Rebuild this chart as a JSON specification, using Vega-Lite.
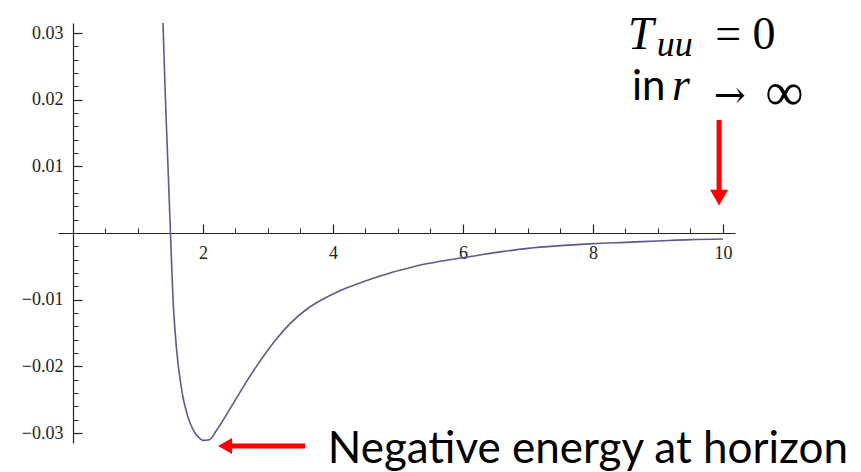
{
  "$schema": "https://vega.github.io/schema/vega-lite/v6.json",
  "width": 677,
  "height": 420,
  "autosize": {"type": "none"},
  "padding": {"left": 58, "top": 23, "right": 126, "bottom": 29},
  "background": "white",
  "config": {"view": {"stroke": null}},
  "datasets": {
    "curve": [
      {"r": 1.385, "T": 0.0315},
      {"r": 1.423, "T": 0.02},
      {"r": 1.462, "T": 0.01},
      {"r": 1.5, "T": 0.0},
      {"r": 1.538, "T": -0.0096},
      {"r": 1.569, "T": -0.0145},
      {"r": 1.615, "T": -0.0195},
      {"r": 1.662, "T": -0.0228},
      {"r": 1.692, "T": -0.0246},
      {"r": 1.738, "T": -0.0265},
      {"r": 1.769, "T": -0.0276},
      {"r": 1.815, "T": -0.0288},
      {"r": 1.877, "T": -0.03},
      {"r": 1.938, "T": -0.0307},
      {"r": 2.0, "T": -0.0311},
      {"r": 2.1, "T": -0.031},
      {"r": 2.21, "T": -0.0296},
      {"r": 2.365, "T": -0.0272},
      {"r": 2.52, "T": -0.0247},
      {"r": 2.67, "T": -0.0223},
      {"r": 2.83, "T": -0.0199},
      {"r": 2.98, "T": -0.0178},
      {"r": 3.13, "T": -0.0159},
      {"r": 3.34, "T": -0.0136},
      {"r": 3.6, "T": -0.0114},
      {"r": 3.85, "T": -0.0099},
      {"r": 4.1, "T": -0.0087},
      {"r": 4.36, "T": -0.0077},
      {"r": 4.62, "T": -0.0068},
      {"r": 4.88, "T": -0.006},
      {"r": 5.15, "T": -0.0053},
      {"r": 5.4, "T": -0.0047},
      {"r": 5.8, "T": -0.004},
      {"r": 6.2, "T": -0.0034},
      {"r": 6.6, "T": -0.0028},
      {"r": 7.0, "T": -0.0023},
      {"r": 7.5, "T": -0.0019},
      {"r": 8.0, "T": -0.0016},
      {"r": 8.5, "T": -0.0014},
      {"r": 9.0, "T": -0.0012},
      {"r": 9.5, "T": -0.001},
      {"r": 10.0, "T": -0.0009}
    ]
  },
  "encoding": {
    "x": {"field": "r", "type": "quantitative", "axis": null,
          "scale": {"domain": [-0.23, 10.185], "nice": false, "zero": false}},
    "y": {"field": "T", "type": "quantitative", "axis": null,
          "scale": {"domain": [-0.0315, 0.0315], "nice": false, "zero": false}}
  },
  "layer": [
    {
      "data": {"name": "curve"},
      "mark": {"type": "line", "interpolate": "monotone", "color": "#5b5b90", "strokeWidth": 1.6},
      "encoding": {
        "x": {"field": "r", "type": "quantitative",
              "scale": {"domain": [-0.23, 10.185], "nice": false, "zero": false},
              "axis": {"orient": "bottom", "offset": -210, "values": [2, 4, 6, 8, 10], "title": null,
                       "grid": false, "domainColor": "#222", "domainWidth": 1.2, "tickColor": "#222",
                       "tickWidth": 1.2, "tickSize": -9, "labelPadding": 20, "labelFont": "Liberation Serif",
                       "labelFontSize": 18, "labelColor": "#222"}},
        "y": {"field": "T", "type": "quantitative",
              "scale": {"domain": [-0.0315, 0.0315], "nice": false, "zero": false},
              "axis": {"orient": "left", "offset": -15, "values": [-0.03, -0.02, -0.01, 0.01, 0.02, 0.03],
                       "format": ".2f", "title": null, "grid": false, "domainColor": "#222", "domainWidth": 1.2,
                       "tickColor": "#222", "tickWidth": 1.2, "tickSize": -9, "labelPadding": 19,
                       "labelFont": "Liberation Serif", "labelFontSize": 18, "labelColor": "#222"}}
      }
    },
    {
      "data": {"values": [{"r": 9.94, "T": 0.01695, "r2": 9.94, "T2": 0.0058}, {"r": 3.57, "T": -0.03195, "r2": 2.4, "T2": -0.03195}]},
      "mark": {"type": "rule", "color": "#ff0000", "strokeWidth": 5},
      "encoding": {
        "x": {"field": "r", "type": "quantitative",
              "scale": {"domain": [-0.23, 10.185], "nice": false, "zero": false},
              "axis": {"orient": "bottom", "offset": -210, "title": null, "grid": false, "domain": false, "labels": false,
                       "values": [0.5, 1, 1.5, 2.5, 3, 3.5, 4.5, 5, 5.5, 6.5, 7, 7.5, 8.5, 9, 9.5],
                       "tickColor": "#222", "tickWidth": 1, "tickSize": -5}},
        "y": {"field": "T", "type": "quantitative",
              "scale": {"domain": [-0.0315, 0.0315], "nice": false, "zero": false},
              "axis": {"orient": "left", "offset": -15, "title": null, "grid": false, "domain": false, "labels": false,
                       "values": [-0.028, -0.026, -0.024, -0.022, -0.018, -0.016, -0.014, -0.012, -0.008, -0.006, -0.004, -0.002,
                                  0.002, 0.004, 0.006, 0.008, 0.012, 0.014, 0.016, 0.018, 0.022, 0.024, 0.026, 0.028],
                       "tickColor": "#222", "tickWidth": 1, "tickSize": -5}},
        "x2": {"field": "r2"},
        "y2": {"field": "T2"}
      }
    },
    {
      "data": {"values": [{"r": 9.94, "T": 0.0053}]},
      "mark": {"type": "point", "shape": "triangle-down", "filled": true, "color": "#ff0000", "opacity": 1, "size": 324}
    },
    {
      "data": {"values": [{"r": 2.34, "T": -0.03195}]},
      "mark": {"type": "point", "shape": "triangle-left", "filled": true, "color": "#ff0000", "opacity": 1, "size": 260}
    },
    {
      "data": {"values": [{"r": 3.92, "T": -0.0345, "label": "Negative energy at horizon"}]},
      "mark": {"type": "text", "align": "left", "baseline": "alphabetic", "font": "Lato", "fontSize": 44, "color": "#000"},
      "encoding": {"text": {"field": "label"}}
    },
    {
      "data": {"values": [{"r": 8.54, "T": 0.0276, "label": "T"}, {"r": 9.215, "T": 0.01995, "label": "r"}]},
      "mark": {"type": "text", "align": "left", "baseline": "alphabetic", "font": "Liberation Serif", "fontStyle": "italic", "fontSize": 46, "color": "#000"},
      "encoding": {"text": {"field": "label"}}
    },
    {
      "data": {"values": [{"r": 8.98, "T": 0.0265, "label": "uu"}]},
      "mark": {"type": "text", "align": "left", "baseline": "alphabetic", "font": "Liberation Serif", "fontStyle": "italic", "fontSize": 36, "color": "#000"},
      "encoding": {"text": {"field": "label"}}
    },
    {
      "data": {"values": [{"r": 9.88, "T": 0.0276, "label": "= 0"}]},
      "mark": {"type": "text", "align": "left", "baseline": "alphabetic", "font": "Liberation Serif", "fontSize": 46, "color": "#000"},
      "encoding": {"text": {"field": "label"}}
    },
    {
      "data": {"values": [{"r": 9.86, "T": 0.0187, "label": "→"}]},
      "mark": {"type": "text", "align": "left", "baseline": "alphabetic", "font": "DejaVu Serif", "fontSize": 38, "color": "#000"},
      "encoding": {"text": {"field": "label"}}
    },
    {
      "data": {"values": [{"r": 10.65, "T": 0.01845, "label": "∞"}]},
      "mark": {"type": "text", "align": "left", "baseline": "alphabetic", "font": "Liberation Serif", "fontSize": 54, "color": "#000"},
      "encoding": {"text": {"field": "label"}}
    },
    {
      "data": {"values": [{"r": 8.6, "T": 0.01995, "label": "in"}]},
      "mark": {"type": "text", "align": "left", "baseline": "alphabetic", "font": "Lato", "fontSize": 42, "color": "#000"},
      "encoding": {"text": {"field": "label"}}
    }
  ],
  "resolve": {"axis": {"x": "independent", "y": "independent"}}
}
